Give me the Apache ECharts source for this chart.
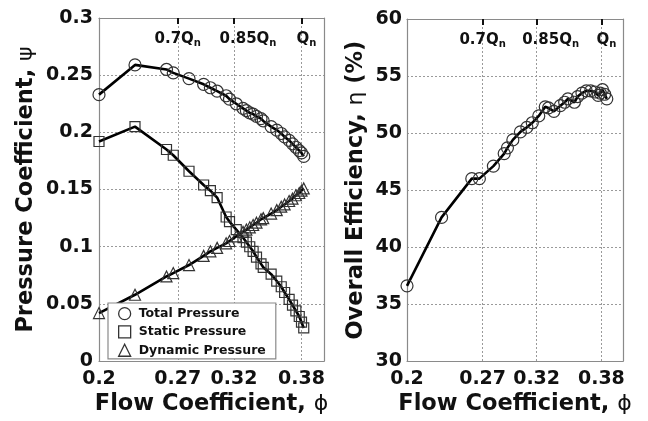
<!DOCTYPE html>
<html>
<head>
<meta charset="utf-8">
<script src="https://cdn.jsdelivr.net/npm/echarts@6/dist/echarts.min.js"></script>
<style>
html,body{margin:0;padding:0;background:#fff;}
#chart{width:648px;height:421px;}
</style>
</head>
<body>
<div id="chart"></div>
<script>
// ---- Data ----
const phi = [0.200, 0.232, 0.260, 0.266, 0.280, 0.293, 0.299, 0.305, 0.313, 0.316, 0.322, 0.328, 0.331, 0.334, 0.337, 0.340, 0.344, 0.346, 0.353, 0.358, 0.362, 0.365, 0.369, 0.372, 0.375, 0.378, 0.380, 0.382];
const totalPressure = [0.233, 0.259, 0.255, 0.252, 0.247, 0.242, 0.239, 0.236, 0.232, 0.229, 0.225, 0.221, 0.219, 0.217, 0.216, 0.214, 0.212, 0.210, 0.205, 0.202, 0.199, 0.196, 0.193, 0.190, 0.187, 0.184, 0.182, 0.179];
const staticPressure = [0.192, 0.205, 0.185, 0.180, 0.166, 0.154, 0.149, 0.143, 0.126, 0.122, 0.115, 0.108, 0.104, 0.100, 0.096, 0.091, 0.085, 0.082, 0.076, 0.070, 0.065, 0.060, 0.054, 0.049, 0.044, 0.039, 0.034, 0.029];
const dynamicPressure = [0.042, 0.058, 0.074, 0.077, 0.084, 0.092, 0.096, 0.099, 0.103, 0.105, 0.109, 0.113, 0.115, 0.117, 0.119, 0.121, 0.124, 0.125, 0.129, 0.132, 0.135, 0.137, 0.140, 0.142, 0.145, 0.147, 0.149, 0.151];

const phiEff = [0.200, 0.232, 0.260, 0.267, 0.280, 0.290, 0.293, 0.298, 0.305, 0.311, 0.316, 0.322, 0.328, 0.331, 0.336, 0.342, 0.346, 0.349, 0.355, 0.358, 0.362, 0.366, 0.370, 0.374, 0.377, 0.379, 0.381, 0.383, 0.385];
const efficiency = [36.6, 42.6, 46.0, 46.0, 47.1, 48.2, 48.7, 49.4, 50.1, 50.5, 50.9, 51.5, 52.3, 52.2, 51.9, 52.4, 52.7, 53.0, 52.7, 53.2, 53.5, 53.7, 53.7, 53.6, 53.3, 53.5, 53.8, 53.4, 53.0];

const xTicks = [0.2, 0.27, 0.32, 0.38];
const topTicks = [0.27, 0.32, 0.38];
const topLabels = ['0.7Q', '0.85Q', 'Q'];
const seriesNames = ['Total Pressure', 'Static Pressure', 'Dynamic Pressure'];

// ---- Styles ----
const FONT = '"DejaVu Sans", sans-serif';
const topLabelPad = [0, 28, 10]; // per-label left padding (style only)
const frameColor = '#8a8a8a';
const gridLine = {show: true, lineStyle: {color: '#9a9a9a', type: [2, 2], width: 1}};
const nameStyle = {fontFamily: FONT, fontWeight: 'bold', fontSize: 22.5, color: '#111',
  rich: {g: {fontFamily: FONT, fontWeight: 'normal', fontSize: 22, color: '#111'}}};

function zip(xs, ys) { return xs.map((x, i) => [x, ys[i]]); }

function bottomX(gridIndex) {
  return {
    type: 'value', gridIndex, position: 'bottom', min: 0.2, max: 0.4,
    axisLine: {show: true, onZero: false, lineStyle: {color: frameColor, width: 1.2}},
    axisTick: {show: false, customValues: xTicks},
    axisLabel: {customValues: xTicks, fontFamily: FONT, fontWeight: 'bold', fontSize: 19, color: '#111', margin: 8,
      formatter: v => String(+v.toFixed(2))},
    splitLine: gridLine,
    name: 'Flow Coefficient, {g|ϕ}', nameLocation: 'middle', nameGap: 29,
    nameTextStyle: nameStyle
  };
}
function topX(gridIndex) {
  return {
    type: 'value', gridIndex, position: 'top', min: 0.2, max: 0.4,
    axisLine: {show: true, onZero: false, lineStyle: {color: frameColor, width: 1.2}},
    axisTick: {show: true, inside: true, length: 6, customValues: topTicks, lineStyle: {color: '#111', width: 2}},
    axisLabel: {show: true, inside: true, margin: 13, customValues: topTicks,
      formatter: v => {
        const i = topTicks.findIndex(t => Math.abs(t - v) < 1e-6);
        return '{p' + i + '|' + topLabels[i] + '}{s|n}';
      },
      rich: {
        p0: {fontFamily: FONT, fontWeight: 'bold', fontSize: 15, color: '#111', padding: [0, 0, 0, topLabelPad[0]]},
        p1: {fontFamily: FONT, fontWeight: 'bold', fontSize: 15, color: '#111', padding: [0, 0, 0, topLabelPad[1]]},
        p2: {fontFamily: FONT, fontWeight: 'bold', fontSize: 15, color: '#111', padding: [0, 0, 0, topLabelPad[2]]},
        s: {fontFamily: FONT, fontWeight: 'bold', fontSize: 10, color: '#111', padding: [7, 0, 0, 0]}
      }
    },
    splitLine: {show: false}
  };
}

const markerStyle = {color: 'rgba(255,255,255,0)', borderColor: '#333', borderWidth: 1.2};
const lineStyle = {color: '#000', width: 2.6};

const option = {
  animation: false,
  backgroundColor: '#fff',
  grid: [
    {left: 99, top: 18, width: 225, height: 348},
    {left: 407, top: 19, width: 216, height: 346}
  ],
  xAxis: [bottomX(0), topX(0), bottomX(1), topX(1)],
  yAxis: [
    {type: 'value', gridIndex: 0, min: 0, max: 0.3, interval: 0.05,
     axisLine: {show: true, onZero: false, lineStyle: {color: frameColor, width: 1.2}},
     axisTick: {show: false},
     axisLabel: {fontFamily: FONT, fontWeight: 'bold', fontSize: 19, color: '#111', margin: 6},
     splitLine: gridLine,
     name: 'Pressure Coefficient, {g|ψ}', nameLocation: 'middle', nameGap: 61,
     nameTextStyle: nameStyle},
    {type: 'value', gridIndex: 0, position: 'right', min: 0, max: 0.3, interval: 0.05,
     axisLine: {show: true, onZero: false, lineStyle: {color: frameColor, width: 1.2}},
     axisTick: {show: false}, axisLabel: {show: false}, splitLine: {show: false}},
    {type: 'value', gridIndex: 1, min: 30, max: 60, interval: 5,
     axisLine: {show: true, onZero: false, lineStyle: {color: frameColor, width: 1.2}},
     axisTick: {show: false},
     axisLabel: {fontFamily: FONT, fontWeight: 'bold', fontSize: 19, color: '#111', margin: 5},
     splitLine: gridLine,
     name: 'Overall Efficiency, {g|η} (%)', nameLocation: 'middle', nameGap: 39,
     nameTextStyle: nameStyle},
    {type: 'value', gridIndex: 1, position: 'right', min: 30, max: 60, interval: 5,
     axisLine: {show: true, onZero: false, lineStyle: {color: frameColor, width: 1.2}},
     axisTick: {show: false}, axisLabel: {show: false}, splitLine: {show: false}}
  ],
  legend: {
    left: 108, top: 303, width: 160,
    orient: 'vertical',
    backgroundColor: '#fff',
    borderColor: '#8a8a8a', borderWidth: 1.2, borderRadius: 0,
    padding: [4, 10, 2, 10],
    itemGap: 5, itemWidth: 12, itemHeight: 12,
    textStyle: {fontFamily: FONT, fontWeight: 'bold', fontSize: 12.5, color: '#111', padding: [0, 0, 0, 3]},
    data: [
      {name: seriesNames[0], icon: 'circle', itemStyle: {color: '#fff', borderColor: '#333', borderWidth: 1.3}},
      {name: seriesNames[1], icon: 'rect', itemStyle: {color: '#fff', borderColor: '#333', borderWidth: 1.3}},
      {name: seriesNames[2], icon: 'triangle', itemStyle: {color: '#fff', borderColor: '#333', borderWidth: 1.3}}
    ]
  },
  series: [
    {name: seriesNames[0], type: 'line', xAxisIndex: 0, yAxisIndex: 0, data: zip(phi, totalPressure),
     symbol: 'circle', symbolSize: 12, showAllSymbol: true, itemStyle: markerStyle, lineStyle, z: 3},
    {name: seriesNames[1], type: 'line', xAxisIndex: 0, yAxisIndex: 0, data: zip(phi, staticPressure),
     symbol: 'rect', symbolSize: 10, showAllSymbol: true, itemStyle: markerStyle, lineStyle, z: 3},
    {name: seriesNames[2], type: 'line', xAxisIndex: 0, yAxisIndex: 0, data: zip(phi, dynamicPressure),
     symbol: 'triangle', symbolSize: 11, showAllSymbol: true, itemStyle: markerStyle, lineStyle, z: 3},
    {name: 'Efficiency', type: 'line', xAxisIndex: 2, yAxisIndex: 2, data: zip(phiEff, efficiency),
     symbol: 'circle', symbolSize: 12, showAllSymbol: true, itemStyle: markerStyle, lineStyle, z: 3}
  ]
};

const chart = echarts.init(document.getElementById('chart'), null, {renderer: 'canvas'});
chart.setOption(option);
</script>
</body>
</html>
